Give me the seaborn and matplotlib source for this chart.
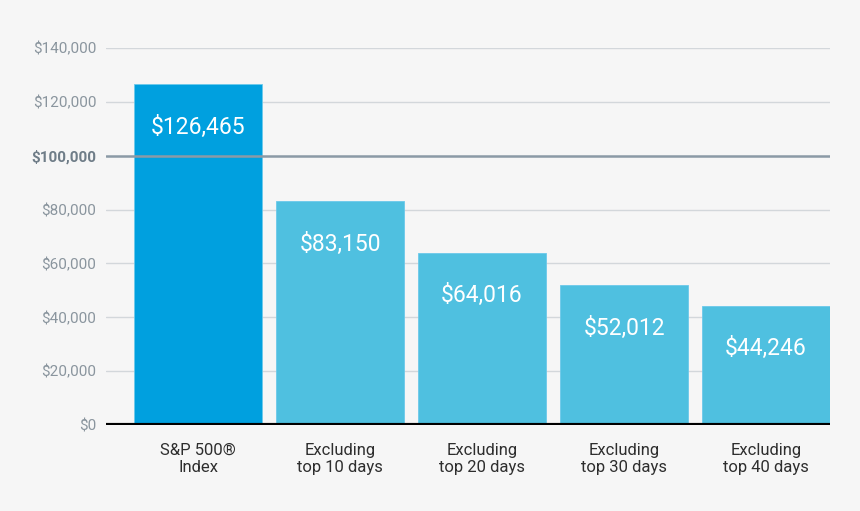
import pandas as pd
import seaborn as sns
import matplotlib.pyplot as plt
from matplotlib.ticker import FuncFormatter

# Data
categories = ["S&P 500®\nIndex", "Excluding\ntop 10 days", "Excluding\ntop 20 days",
              "Excluding\ntop 30 days", "Excluding\ntop 40 days"]
values = [126465, 83150, 64016, 52012, 44246]
bar_colors = ["#00a0df", "#4fc0e0", "#4fc0e0", "#4fc0e0", "#4fc0e0"]
y_ticks = [0, 20000, 40000, 60000, 80000, 100000, 120000, 140000]

df = pd.DataFrame({"category": categories, "value": values})

sns.set_style("white")
plt.rcParams['font.family'] = ['Roboto', 'DejaVu Sans']

bg = "#f6f6f6"
fig = plt.figure(figsize=(8.6, 5.11), dpi=100, facecolor=bg)
ax = fig.add_axes([106/860, 86/511, 724/860, 377/511])
ax.set_facecolor(bg)

sns.barplot(data=df, x="category", y="value", hue="category",
            palette=bar_colors, width=0.9, saturation=1, legend=False, ax=ax, zorder=2)
for p in ax.patches:
    p.set_edgecolor("#6cc9ea")
    p.set_linewidth(0.6)

# gridlines
for t in y_ticks:
    if t == 0:
        continue
    if t == 100000:
        ax.axhline(t, color="#8b9aa6", lw=1.8, zorder=3)
    else:
        ax.axhline(t, color="#d3d7db", lw=1.0, zorder=1)
ax.axhline(0, color="black", lw=3, zorder=4)

ax.set_ylim(0, 140000)
ax.set_xlim(-0.648, 4.45)
ax.set_yticks(y_ticks)
ax.yaxis.set_major_formatter(FuncFormatter(lambda v, _: "${:,.0f}".format(v)))
ax.tick_params(axis="y", length=0, pad=7, labelsize=11, labelcolor="#8a959e")
ax.tick_params(axis="x", length=0, pad=13, labelsize=12, labelcolor="#2e2e2e")
for lbl in ax.get_yticklabels():
    if lbl.get_text() == "$100,000":
        lbl.set_fontweight("bold")
        lbl.set_color("#6f7d88")
for lbl in ax.get_xticklabels():
    lbl.set_linespacing(1.15)
ax.set_xlabel("")
ax.set_ylabel("")
sns.despine(ax=ax, left=True, bottom=True)

# value labels inside bars
for i, v in enumerate(values):
    ax.annotate("${:,}".format(v), (i, v), xytext=(0, -31), textcoords="offset points",
                ha="center", va="center", color="white", fontsize=16.5, zorder=5)

fig.savefig("out.png", dpi=100, facecolor=bg)
